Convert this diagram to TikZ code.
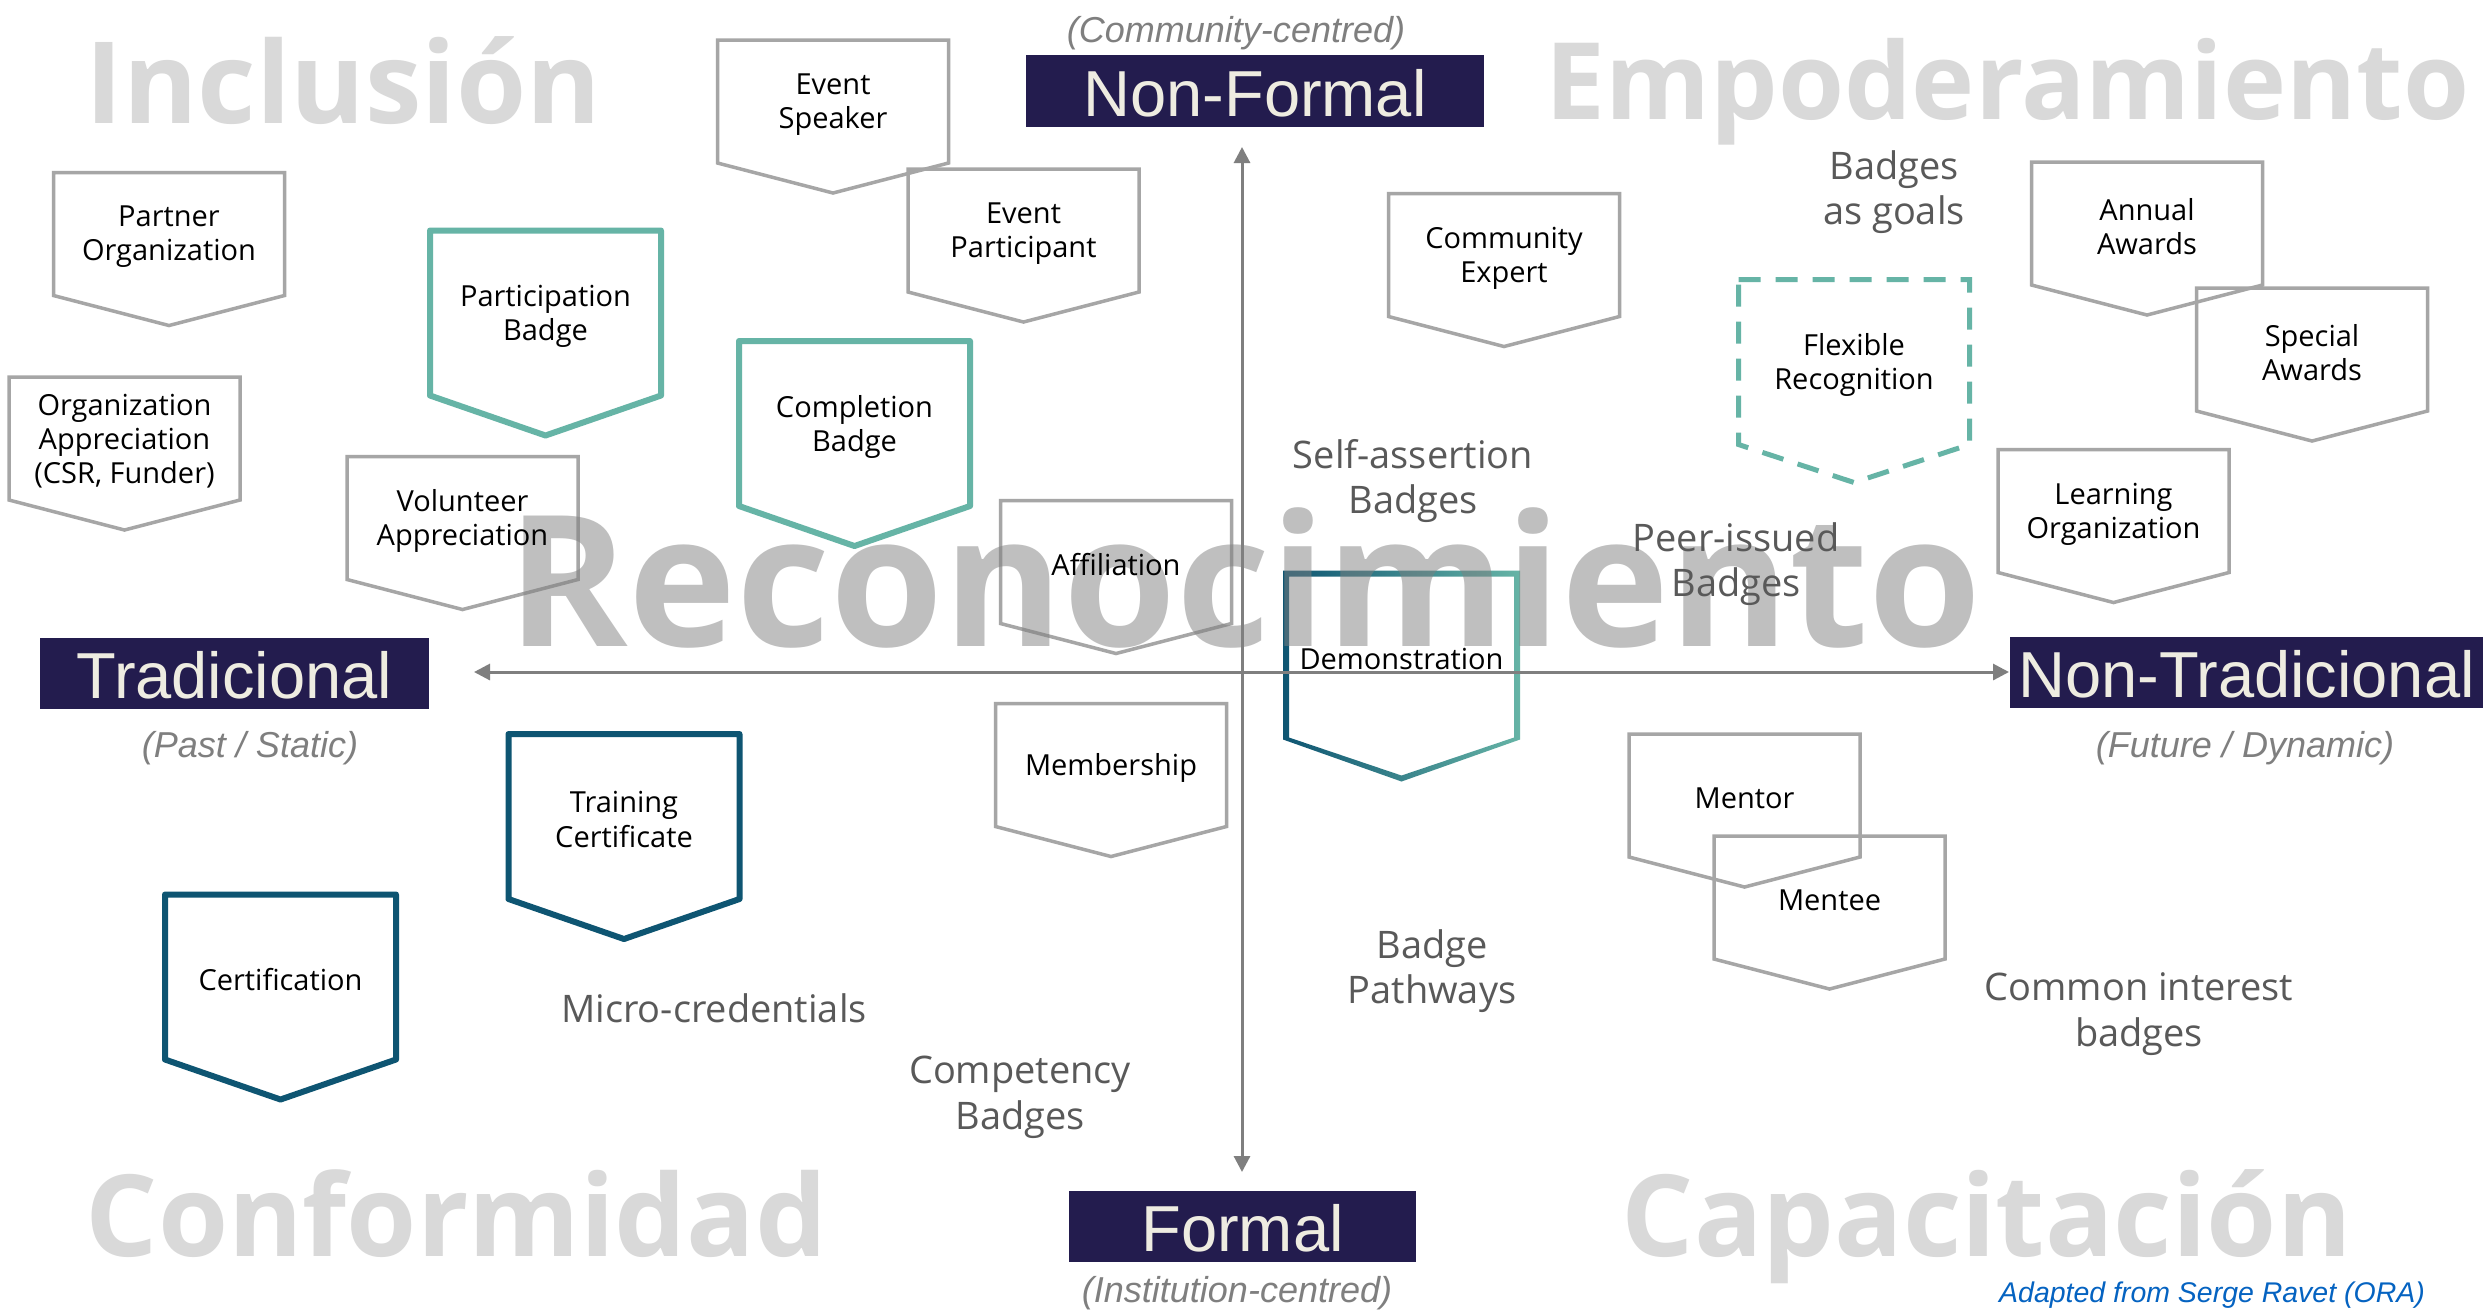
\documentclass[tikz,border=0pt]{standalone}
\usepackage{fontspec}
\setmainfont{Open Sans}
\newfontfamily\arialfont{Liberation Sans}
\usetikzlibrary{arrows.meta,calc}
\definecolor{navy}{RGB}{35,28,78}
\definecolor{cream}{RGB}{238,236,225}
\definecolor{bteal}{RGB}{102,180,166}
\definecolor{bdark}{RGB}{14,85,114}
\definecolor{bgray}{RGB}{166,166,166}
\definecolor{axisgray}{RGB}{127,127,127}
\definecolor{labgray}{RGB}{89,89,89}
\definecolor{wmlight}{RGB}{217,217,217}
\definecolor{creditblue}{RGB}{5,99,193}
\pgfdeclarelayer{bg}
\pgfsetlayers{bg,main}
% outline of a badge: rectangle part of the node (raised by 3px) plus a V-shaped point
\newcommand\badgeline[3]{\draw[#3] ($(#1.north west)+(0,-3)$) -- ($(#1.north east)+(0,-3)$) -- ($(#1.south east)+(0,-3)$) -- ($(#1.south)+(0,#2-3)$) -- ($(#1.south west)+(0,-3)$) -- cycle;}
\begin{document}
\begin{tikzpicture}[x=0.1mm,y=-0.1mm,
  badge/.style={inner sep=0pt, outer sep=0pt, minimum width=23.1mm, minimum height=12.3mm, align=center, text=black, font=\fontsize{8.25}{9.7}\selectfont},
  tbadge/.style={badge, minimum height=16.5mm},
  gline/.style={draw=bgray, line width=0.35mm, line join=miter},
  tline/.style={draw=bteal, line width=0.6mm, line join=round},
  dline/.style={draw=bdark, line width=0.6mm, line join=round},
  fline/.style={draw=bteal, line width=0.5mm, dash pattern=on 2.2mm off 1.5mm},
  header/.style={fill=navy, text=cream, inner sep=0pt, outer sep=0pt, text height=5.0mm, text depth=0mm, font=\arialfont\fontsize{18.5}{20}\selectfont},
  subt/.style={text=axisgray, inner sep=0pt, font=\arialfont\itshape\fontsize{10.25}{12}\selectfont},
  cat/.style={text=labgray, align=center, inner sep=0pt, font=\fontsize{10.8}{13}\selectfont},
  wm/.style={text=wmlight, inner sep=0pt, anchor=base west, font=\bfseries\fontsize{32.3}{38}\selectfont},
  axisline/.style={draw=axisgray, line width=0.3mm, {Triangle[length=1.6mm,width=1.6mm]}-{Triangle[length=1.6mm,width=1.6mm]}},
  credit/.style={text=creditblue, inner sep=0pt, font=\arialfont\itshape\fontsize{8.1}{10}\selectfont}
]
\useasboundingbox (0,0) rectangle (2483,1311);

% corner watermarks
\node[wm] (wi) at (85,123) {Inclusión};
\node[wm, font=\bfseries\fontsize{30.4}{36}\selectfont] (we) at (1545,119) {Empoderamiento};
\node[wm] (wc) at (85,1256) {Conformidad};
\node[wm] (wk) at (1621,1256) {Capacitación};

% header boxes
\node[header, minimum width=45.8mm, minimum height=7.2mm] (nf) at (1255,91) {Non-Formal};
\node[header, minimum width=38.9mm, minimum height=7.1mm] (tr) at (234.5,673.5) {Tradicional};
\node[header, minimum width=34.7mm, minimum height=7.1mm] (fo) at (1242.5,1226.5) {Formal};
\node[header, anchor=west, minimum height=7.1mm, minimum width=47.3mm] (nt) at (2010,672.5) {Non-Tradicional};

\node[subt] (scc) at (1236,33) {(Community-centred)};
\node[subt] (sps) at (250,748) {(Past / Static)};
\node[subt] (sfd) at (2245,748) {(Future / Dynamic)};
\node[subt] (sic) at (1237,1293) {(Institution-centred)};

% axes
\coordinate (axL) at (474,672);
\coordinate (axR) at (2009,672);
\coordinate (axT) at (1242,147);
\coordinate (axB) at (1242,1172);

% badges (gray)
\node[badge] (es) at (833,104.5) {Event\\Speaker};
\node[badge] (po) at (169,237) {Partner\\Organization};
\node[badge] (oa) at (124.5,441.5) {Organization\\Appreciation\\(CSR, Funder)};
\node[badge] (va) at (462.5,521) {Volunteer\\Appreciation};
\node[badge] (ep) at (1023.5,233.5) {Event\\Participant};
\node[badge] (af) at (1116,565) {Affiliation};
\node[badge] (me) at (1111,768) {Membership};
\node[badge] (ce) at (1504,258) {Community\\Expert};
\node[badge] (aa) at (2147,226.5) {Annual\\Awards};
\node[badge] (sa) at (2312,352.5) {Special\\Awards};
\node[badge] (lo) at (2113.5,514) {Learning\\Organization};
\node[badge] (mr) at (1744.5,798.5) {Mentor};
\node[badge] (mt) at (1829.5,900.5) {Mentee};
% badges (coloured)
\node[tbadge] (pb) at (545.5,316) {Participation\\Badge};
\node[tbadge] (cb) at (854.5,426.5) {Completion\\Badge};
\node[tbadge] (dm) at (1401.5,659) {Demonstration};
\node[tbadge] (tc) at (624,819.5) {Training\\Certificate};
\node[tbadge] (cf) at (280.5,980) {Certification};
\node[tbadge] (fr) at (1854,365) {Flexible\\Recognition};

% category labels
\node[cat] (lsa) at (1413,481) {Self-assertion\\Badges};
\node[cat] (lbg) at (1894,192) {Badges\\as goals};
\node[cat] (lpi) at (1736,564) {Peer-issued\\Badges};
\node[cat] (lmc) at (714,1008) {Micro-credentials};
\node[cat] (lcb) at (1020,1097) {Competency\\Badges};
\node[cat] (lbp) at (1432,971) {Badge\\Pathways};
\node[cat] (lci) at (2139,1014) {Common interest\\badges};

\node[credit] (cr) at (2212,1299) {\underline{Adapted from Serge Ravet (ORA)}};

\begin{pgfonlayer}{bg}
\fill[white] (0,0) rectangle (2483,1311);
\foreach \n in {es,po,oa,va,ep,af,me,ce,aa,sa,lo,mr,mt}{\badgeline{\n}{30}{gline}}
\badgeline{pb}{40}{tline}
\badgeline{cb}{40}{tline}
\badgeline{tc}{40}{dline}
\badgeline{cf}{40}{dline}
\badgeline{fr}{38}{fline}
\shade[left color=bdark, right color=bteal, even odd rule]
  ($(dm.north west)+(-3,-6)$) -- ($(dm.north east)+(3,-6)$) -- ($(dm.south east)+(3,-2)$) -- ($(dm.south)+(0,40)$) -- ($(dm.south west)+(-3,-2)$) -- cycle
  ($(dm.north west)+(3,0)$) -- ($(dm.north east)+(-3,0)$) -- ($(dm.south east)+(-3,-4)$) -- ($(dm.south)+(0,34)$) -- ($(dm.south west)+(3,-4)$) -- cycle;
\draw[axisline] (axL) -- (axR);
\draw[axisline] (axT) -- (axB);
\node[wm, text=black!50, opacity=0.5, font=\bfseries\fontsize{52}{58}\selectfont] (wr) at (507,646) {Reconocimiento};
\end{pgfonlayer}
\end{tikzpicture}
\end{document}
